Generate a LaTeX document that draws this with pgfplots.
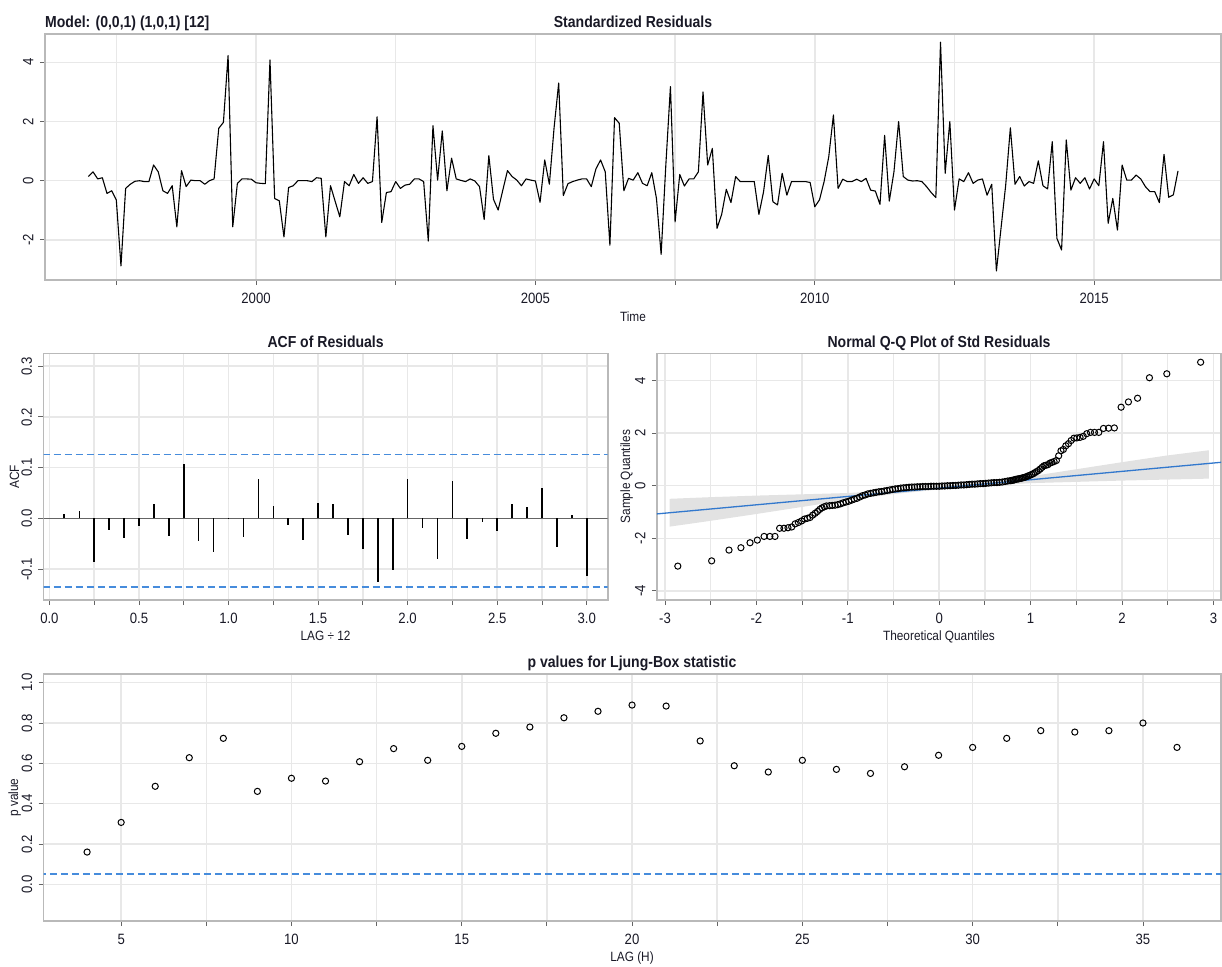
\documentclass[border=0pt]{standalone}
\usepackage{fontspec}
\setmainfont{Liberation Sans}[FakeStretch=0.88]
\usepackage{pgfplots}
\pgfplotsset{compat=1.18}
\definecolor{gridc}{RGB}{232,232,232}
\definecolor{framec}{RGB}{185,185,185}
\definecolor{tickc}{RGB}{100,100,100}
\definecolor{dblue}{RGB}{70,140,220}
\definecolor{lblue}{RGB}{50,120,205}
\definecolor{bandc}{RGB}{226,226,226}
\definecolor{txt}{RGB}{25,25,38}
\newcommand{\tickfont}{\fontsize{15}{17}\selectfont}
\newcommand{\labfont}{\fontsize{13.5}{15}\selectfont}
\newcommand{\titfont}{\fontsize{16}{18}\selectfont\bfseries}
\pgfplotsset{
  rstyle/.style={
    scale only axis,
    axis line style={draw=framec, line width=1.6bp},
    grid=both,
    major grid style={draw=gridc, line width=1.5bp},
    minor grid style={draw=gridc, line width=1.5bp},
    tick align=outside,
    tick pos=left,
    major tick length=5bp,
    minor tick length=5bp,
    every tick/.append style={draw=tickc, line width=0.9bp},
    ticklabel style={font=\tickfont, text=txt},
    xticklabel style={anchor=base, inner sep=0pt, yshift=-18.5bp},
    yticklabel style={xshift=-6.5bp, rotate=90, anchor=base, inner sep=0pt},
  }
}
\begin{document}
\begin{tikzpicture}
\useasboundingbox (0,0) rectangle (1222bp,-967bp);

% ---------------- Standardized residuals ----------------
\begin{axis}[rstyle, at={(44.8bp,-34bp)}, anchor=north west,
  width=1176.2bp, height=246bp,
  xmin=1996.22, xmax=2017.27, ymin=-3.355, ymax=4.956,
  xtick={2000,2005,2010,2015}, xticklabels={2000,2005,2010,2015},
  minor xtick={1997.5,2002.5,2007.5,2012.5},
  ytick={-2,0,2,4}, yticklabels={-2,0,2,4}]
\addplot[black, line width=1.1bp, line join=round] table[row sep=\\, header=false, x expr={1997+\coordindex/12}, y index=0] {
0.14\\0.30\\0.06\\0.10\\-0.43\\-0.34\\-0.65\\-2.88\\-0.26\\-0.12\\
-0.02\\0.00\\-0.03\\-0.03\\0.53\\0.30\\-0.34\\-0.43\\-0.17\\-1.56\\
0.34\\-0.20\\0.02\\0.00\\0.00\\-0.12\\0.00\\0.06\\1.77\\1.97\\
4.23\\-1.56\\-0.09\\0.06\\0.06\\0.05\\-0.07\\-0.09\\-0.10\\4.08\\
-0.60\\-0.68\\-1.90\\-0.23\\-0.17\\0.00\\0.00\\0.00\\-0.03\\0.10\\
0.08\\-1.90\\-0.17\\-0.70\\-1.22\\-0.03\\-0.17\\0.21\\-0.09\\0.10\\
-0.09\\-0.03\\2.16\\-1.41\\-0.40\\-0.37\\-0.03\\-0.26\\-0.15\\-0.12\\
0.06\\0.06\\-0.03\\-2.04\\1.86\\0.02\\1.68\\-0.34\\0.76\\0.06\\
0.01\\-0.03\\0.06\\-0.01\\-0.20\\-1.31\\0.85\\-0.63\\-0.99\\-0.32\\
0.34\\0.14\\0.02\\-0.17\\0.06\\0.02\\-0.01\\-0.73\\0.70\\-0.12\\
1.77\\3.30\\-0.50\\-0.10\\-0.03\\0.02\\0.06\\0.06\\-0.20\\0.40\\
0.70\\0.30\\-2.18\\2.13\\1.94\\-0.34\\0.08\\0.02\\0.27\\-0.09\\
-0.17\\0.27\\-0.60\\-2.49\\0.50\\3.18\\-1.39\\0.21\\-0.18\\0.06\\
0.06\\0.30\\3.00\\0.53\\1.09\\-1.61\\-1.14\\-0.29\\-0.74\\0.14\\
-0.03\\-0.03\\-0.03\\-0.03\\-1.14\\-0.37\\0.85\\-0.71\\-0.82\\0.25\\
-0.49\\-0.03\\-0.03\\-0.03\\-0.03\\-0.06\\-0.88\\-0.65\\-0.03\\0.81\\
2.22\\-0.26\\0.05\\-0.03\\-0.03\\0.05\\-0.03\\0.08\\-0.32\\-0.35\\
-0.80\\1.53\\-0.69\\0.30\\2.00\\0.14\\0.02\\-0.01\\0.00\\-0.03\\
-0.20\\-0.40\\-0.57\\4.68\\0.25\\2.00\\-0.99\\0.06\\-0.03\\0.27\\
-0.09\\0.02\\0.06\\-0.49\\-0.12\\-3.05\\-1.60\\-0.15\\1.79\\-0.12\\
0.14\\-0.18\\-0.03\\-0.09\\0.67\\-0.17\\-0.28\\1.32\\-1.95\\-2.34\\
1.38\\-0.32\\0.10\\-0.09\\0.10\\-0.28\\0.06\\-0.17\\1.32\\-1.44\\
-0.60\\-1.67\\0.53\\0.02\\0.02\\0.19\\0.06\\-0.20\\-0.37\\-0.37\\
-0.74\\0.89\\-0.56\\-0.48\\0.33\\
};
\end{axis}

% ---------------- ACF ----------------
\begin{axis}[rstyle, at={(43.5bp,-353.3bp)}, anchor=north west,
  width=564.2bp, height=246.7bp,
  xmin=-0.033, xmax=3.117, ymin=-0.161, ymax=0.3254,
  xtick={0,0.5,1,1.5,2,2.5,3}, xticklabels={0.0,0.5,1.0,1.5,2.0,2.5,3.0},
  minor xtick={0.25,0.75,1.25,1.75,2.25,2.75},
  ytick={-0.1,0,0.1,0.2,0.3}, yticklabels={-0.1,0.0,0.1,0.2,0.3}]
\addplot[tickc, line width=1.1bp] coordinates {(-0.1,0) (3.2,0)};
\addplot[dblue, line width=1.5bp, dash pattern=on 7bp off 4bp] coordinates {(-0.1,0.126) (3.2,0.126)};
\addplot[dblue, line width=1.5bp, dash pattern=on 7bp off 4bp] coordinates {(-0.1,-0.135) (3.2,-0.135)};
\addplot[ycomb, black, line width=1.6bp] coordinates {
(0.083,0.009) (0.167,0.014) (0.250,-0.087) (0.333,-0.022) (0.417,-0.039) (0.500,-0.016)
(0.583,0.028) (0.667,-0.034) (0.750,0.108) (0.833,-0.044) (0.917,-0.067) (1.000,0.001)
(1.083,-0.037) (1.167,0.078) (1.250,0.024) (1.333,-0.014) (1.417,-0.042) (1.500,0.030)
(1.583,0.028) (1.667,-0.032) (1.750,-0.060) (1.833,-0.125) (1.917,-0.102) (2.000,0.078)
(2.083,-0.019) (2.167,-0.080) (2.250,0.074) (2.333,-0.040) (2.417,-0.007) (2.500,-0.024)
(2.583,0.028) (2.667,0.022) (2.750,0.060) (2.833,-0.057) (2.917,0.006) (3.000,-0.113)
};
\end{axis}

% ---------------- Normal Q-Q ----------------
\begin{axis}[rstyle, at={(656.8bp,-353.3bp)}, anchor=north west,
  width=564.2bp, height=246.7bp,
  xmin=-3.09, xmax=3.083, ymin=-4.35, ymax=5.04,
  xtick={-3,-2,-1,0,1,2,3}, xticklabels={-3,-2,-1,0,1,2,3},
  minor xtick={-2.5,-1.5,-0.5,0.5,1.5,2.5},
  ytick={-4,-2,0,2,4}, yticklabels={-4,-2,0,2,4}]
\addplot[fill=bandc, draw=none] coordinates {
(-2.95,-0.498) (-2.5,-0.435) (-2.0,-0.376) (-1.5,-0.327) (-1.0,-0.278) (-0.5,-0.179)
(0,-0.04) (0.5,0.139) (1.0,0.358) (1.5,0.627) (2.0,0.896) (2.5,1.155) (2.95,1.35)
(2.95,0.27) (2.5,0.235) (2.0,0.196) (1.5,0.147) (1.0,0.098) (0.5,-0.001) (0,-0.14)
(-0.5,-0.319) (-1.0,-0.538) (-1.5,-0.807) (-2.0,-1.076) (-2.5,-1.335) (-2.95,-1.558)
};
\addplot[lblue, line width=1.3bp] coordinates {(-3.2,-1.108) (3.2,0.928)};
\addplot[only marks, mark=o, mark size=3.1bp, black, mark options={line width=1bp}] coordinates {
(-2.86,-3.06) (-2.49,-2.86) (-2.30,-2.45) (-2.17,-2.36) (-2.07,-2.17) (-1.99,-2.07)
(-1.916,-1.93) (-1.853,-1.93) (-1.797,-1.93) (-1.746,-1.62) (-1.699,-1.62) (-1.655,-1.60)
(-1.614,-1.57) (-1.576,-1.45) (-1.541,-1.40) (-1.506,-1.34) (-1.474,-1.27) (-1.443,-1.24)
(-1.414,-1.21) (-1.385,-1.12) (-1.358,-1.05) (-1.332,-0.98) (-1.307,-0.90) (-1.282,-0.84)
(-1.257,-0.80) (-1.234,-0.77)
(-1.20,-0.76) (-1.17,-0.75) (-1.14,-0.74) (-1.11,-0.72) (-1.08,-0.69) (-1.05,-0.65)
(-1.02,-0.62) (-0.99,-0.59) (-0.96,-0.55) (-0.93,-0.51) (-0.90,-0.48) (-0.87,-0.43)
(-0.84,-0.38) (-0.81,-0.35) (-0.78,-0.31) (-0.75,-0.29) (-0.72,-0.27) (-0.69,-0.25)
(-0.66,-0.23) (-0.63,-0.22) (-0.60,-0.20) (-0.57,-0.18) (-0.54,-0.16) (-0.51,-0.14)
(-0.48,-0.12) (-0.45,-0.11) (-0.42,-0.09) (-0.39,-0.08) (-0.36,-0.07) (-0.33,-0.06)
(-0.30,-0.05) (-0.27,-0.05) (-0.24,-0.04) (-0.21,-0.04) (-0.18,-0.03) (-0.15,-0.03)
(-0.12,-0.03) (-0.09,-0.02) (-0.06,-0.02) (-0.03,-0.02) (0.00,-0.02) (0.03,-0.01)
(0.06,-0.01) (0.09,0.00) (0.12,0.00) (0.15,0.01) (0.18,0.01) (0.21,0.02)
(0.24,0.03) (0.27,0.03) (0.30,0.04) (0.33,0.05) (0.36,0.06) (0.39,0.06)
(0.42,0.07) (0.45,0.08) (0.48,0.08) (0.51,0.09) (0.54,0.10) (0.57,0.11)
(0.60,0.12) (0.63,0.12) (0.66,0.13) (0.69,0.14) (0.72,0.16) (0.75,0.18)
(0.776,0.19) (0.790,0.20) (0.805,0.21) (0.819,0.22) (0.834,0.24) (0.849,0.25)
(0.864,0.26) (0.879,0.27) (0.895,0.28) (0.911,0.30) (0.927,0.31) (0.943,0.33)
(0.960,0.35) (0.977,0.38) (0.994,0.40) (1.012,0.43) (1.030,0.46) (1.048,0.50)
(1.067,0.54) (1.086,0.58) (1.106,0.64) (1.126,0.70) (1.146,0.76) (1.167,0.78)
(1.189,0.80) (1.211,0.86) (1.234,0.89) (1.257,0.92) (1.282,0.96) (1.307,1.14)
(1.332,1.33) (1.358,1.38) (1.385,1.52) (1.414,1.60) (1.443,1.72) (1.474,1.81)
(1.506,1.82) (1.541,1.84) (1.576,1.88) (1.614,1.98) (1.655,2.03) (1.699,2.03)
(1.746,2.03) (1.797,2.18) (1.853,2.19) (1.916,2.20) (1.99,2.99) (2.07,3.19)
(2.17,3.33) (2.30,4.11) (2.49,4.26) (2.86,4.70)
};
\end{axis}

% ---------------- Ljung-Box ----------------
\begin{axis}[rstyle, at={(43.5bp,-674bp)}, anchor=north west,
  width=1177.8bp, height=247bp,
  xmin=2.72, xmax=37.30, ymin=-0.182, ymax=1.043,
  xtick={5,10,15,20,25,30,35}, xticklabels={5,10,15,20,25,30,35},
  minor xtick={7.5,12.5,17.5,22.5,27.5,32.5},
  ytick={0,0.2,0.4,0.6,0.8,1}, yticklabels={0.0,0.2,0.4,0.6,0.8,1.0}]
\addplot[dblue, line width=1.5bp, dash pattern=on 7bp off 4bp] coordinates {(0,0.05) (40,0.05)};
\addplot[only marks, mark=o, mark size=3.1bp, black, mark options={line width=1bp}] coordinates {
(4,0.160) (5,0.307) (6,0.486) (7,0.628) (8,0.724) (9,0.461) (10,0.526) (11,0.512)
(12,0.608) (13,0.673) (14,0.615) (15,0.684) (16,0.749) (17,0.780) (18,0.826) (19,0.858)
(20,0.889) (21,0.884) (22,0.711) (23,0.588) (24,0.557) (25,0.615) (26,0.570) (27,0.550)
(28,0.583) (29,0.640) (30,0.679) (31,0.724) (32,0.762) (33,0.755) (34,0.762) (35,0.800)
(36,0.679)
};
\end{axis}

% ---------------- texts ----------------
\node[anchor=base west, font=\titfont, text=txt, inner sep=0pt] at (45bp,-27bp) {Model: (0,0,1) (1,0,1) [12]};
\node[anchor=base, font=\titfont, text=txt, inner sep=0pt] at (633bp,-27bp) {Standardized Residuals};
\node[anchor=base, font=\labfont, text=txt, inner sep=0pt] at (633bp,-321bp) {Time};
\node[anchor=base, font=\titfont, text=txt, inner sep=0pt] at (325.6bp,-347.3bp) {ACF of Residuals};
\node[anchor=base, font=\titfont, text=txt, inner sep=0pt] at (939bp,-347.3bp) {Normal Q-Q Plot of Std Residuals};
\node[anchor=base, font=\labfont, text=txt, inner sep=0pt] at (325.6bp,-640bp) {LAG ÷ 12};
\node[anchor=base, font=\labfont, text=txt, inner sep=0pt] at (939bp,-640bp) {Theoretical Quantiles};
\node[anchor=base, font=\labfont, text=txt, inner sep=0pt, rotate=90] at (19bp,-476.7bp) {ACF};
\node[anchor=base, font=\labfont, text=txt, inner sep=0pt, rotate=90] at (630bp,-476.7bp) {Sample Quantiles};
\node[anchor=base, font=\titfont, text=txt, inner sep=0pt] at (632bp,-667.3bp) {p values for Ljung-Box statistic};
\node[anchor=base, font=\labfont, text=txt, inner sep=0pt] at (632bp,-961bp) {LAG (H)};
\node[anchor=base, font=\labfont, text=txt, inner sep=0pt, rotate=90] at (18bp,-797.5bp) {p value};
\end{tikzpicture}
\end{document}
